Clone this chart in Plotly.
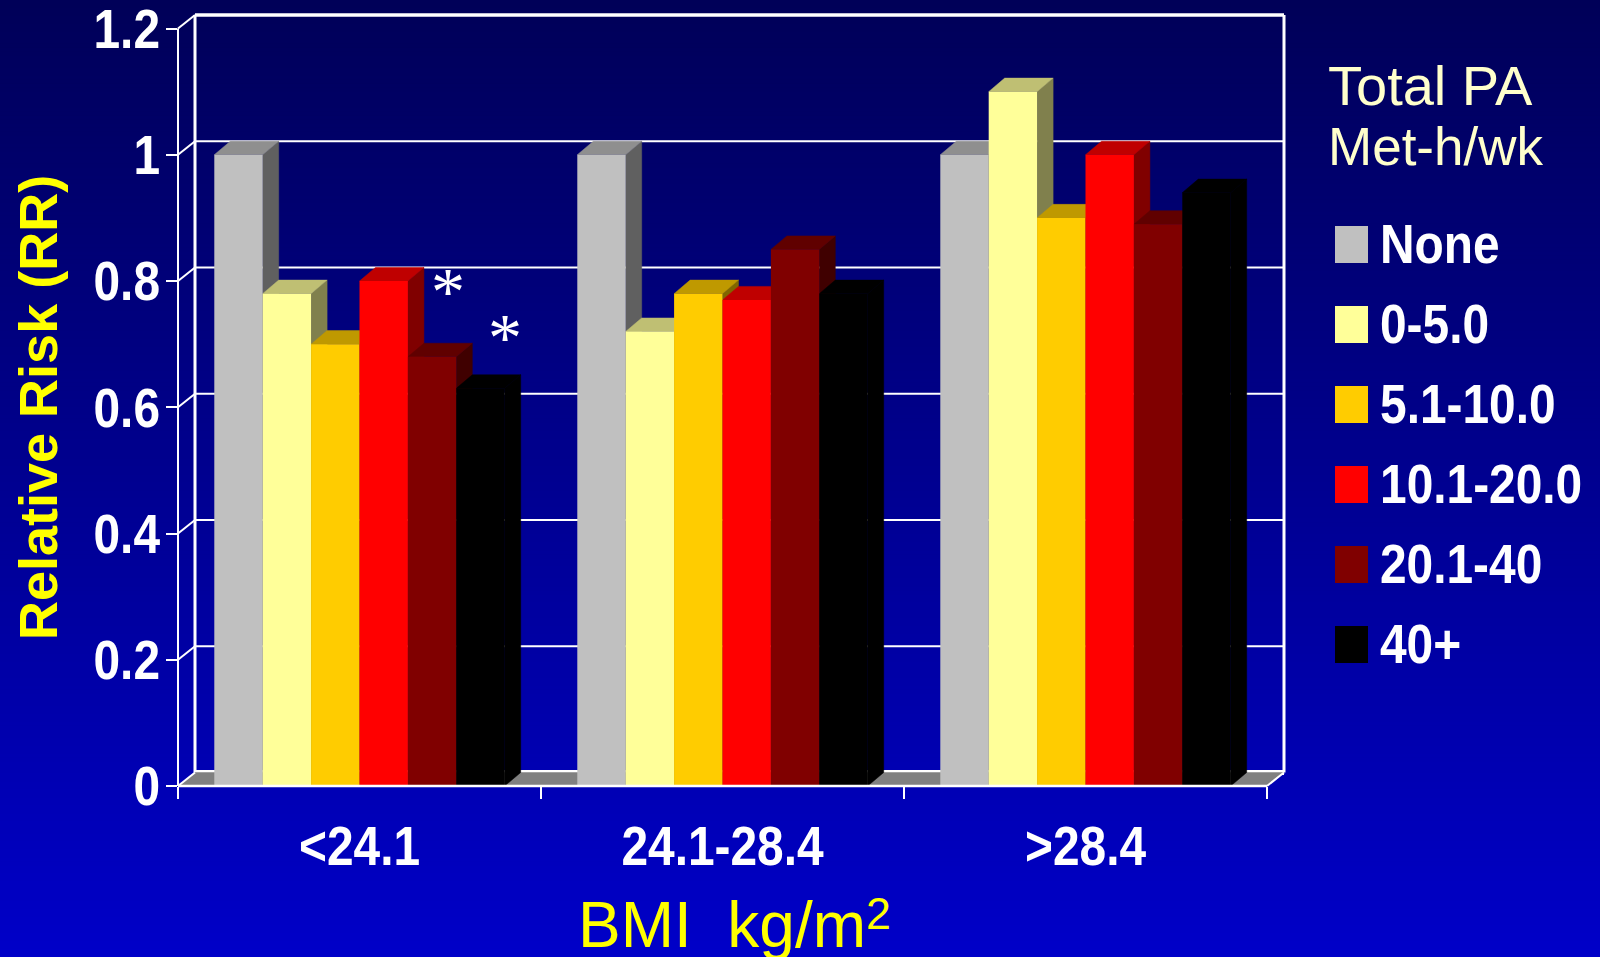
import json
import plotly.graph_objects as go

categories = ["<24.1", "24.1-28.4", ">28.4"]
series_names = ["None", "0-5.0", "5.1-10.0", "10.1-20.0", "20.1-40", "40+"]
none_vals = [1.0, 1.0, 1.0]
v0_5 = [0.78, 0.72, 1.10]
v5_10 = [0.70, 0.78, 0.90]
v10_20 = [0.80, 0.77, 1.00]
v20_40 = [0.68, 0.85, 0.89]
v40 = [0.63, 0.78, 0.94]
series_vals = [none_vals, v0_5, v5_10, v10_20, v20_40, v40]
front_colors = ["#C0C0C0", "#FFFF99", "#FFCC00", "#FF0000", "#800000", "#000000"]
top_colors = ["#8F8F8F", "#BFBF73", "#BF9900", "#BF0000", "#600000", "#000000"]
side_colors = ["#606060", "#80804D", "#806600", "#800000", "#400000", "#000000"]
y_ticks = [0, 0.2, 0.4, 0.6, 0.8, 1.0, 1.2]
y_labels = ["0", "0.2", "0.4", "0.6", "0.8", "1", "1.2"]

W, H = 1600, 957
L, R, T, B = 178, 1284, 15, 786
GAP = 0.2
DX = 17 / 363          # depth of the 3-D box, x in category units
BAR_DX = 16 / 363      # depth of the bars
DY = 13.5 / 630        # depth of the 3-D box, y in value units
XMIN = -0.5
XMAX = 2.5 + DX
YMAX = 1.2 + DY
WHITE = "#FFFFFF"
SANS = "Liberation Sans, Arial, sans-serif"


def px(xp):
    return (xp - L) / (R - L)


def py(yp):
    return (B - yp) / (B - T)


shapes = []
# background gradient
bands = 240
for k in range(bands):
    t = k / (bands - 1)
    blue = int(round(88 + (200 - 88) * t))
    shapes.append(dict(type="rect", xref="paper", yref="paper", layer="below",
                       x0=px(0), x1=px(W), y0=py(H * k / bands), y1=py(H * (k + 1) / bands + 1),
                       fillcolor=f"rgb(0,0,{blue})", line_width=0))


def poly(pts, fill):
    path = "M " + " L ".join(f"{x:.5f},{y:.5f}" for x, y in pts) + " Z"
    shapes.append(dict(type="path", xref="x", yref="y", layer="below", path=path,
                       fillcolor=fill, line=dict(color=fill, width=0.5)))


def line(x0, y0, x1, y1, w=2, layer="below"):
    # paper-referenced (from the axis ranges) so that edge lines are not clipped at the plot area
    fx = lambda v: (v - XMIN) / (XMAX - XMIN)
    fy = lambda v: v / YMAX
    shapes.append(dict(type="line", xref="paper", yref="paper", layer=layer,
                       x0=fx(x0), y0=fy(y0), x1=fx(x1), y1=fy(y1),
                       line=dict(color=WHITE, width=w)))


# walls and grid
for v in y_ticks:
    w = 5 if v == 0 else (3.5 if v == 1.2 else 2)
    line(-0.5 + DX, v + DY, 2.5 + DX, v + DY, w)
    line(-0.5, v, -0.5 + DX, v + DY, 2, "above" if v == 0 else "below")
line(-0.5 + DX, DY, -0.5 + DX, 1.2 + DY, 3)
line(2.5 + DX, DY, 2.5 + DX, 1.2 + DY, 3)
line(-0.5, 0, -0.5, 1.2, 2)
line(2.5, 0, 2.5 + DX, DY, 2, "above")
# floor
poly([(-0.5, 0), (-0.5 + DX, DY), (2.5 + DX, DY), (2.5, 0)], "#808080")

# 3-D faces (the fronts are real bars, drawn above all shapes)
n = len(series_vals)
bw = (1 - GAP) / n
for c in range(len(categories)):
    for i, vals in enumerate(series_vals):
        v = vals[c]
        x0 = c - 0.5 + GAP / 2 + i * bw
        x1 = x0 + bw
        poly([(x1, 0), (x1 + BAR_DX, DY), (x1 + BAR_DX, v + DY), (x1, v)], side_colors[i])
        poly([(x0, v), (x0 + BAR_DX, v + DY), (x1 + BAR_DX, v + DY), (x1, v)], top_colors[i])

line(-0.5, 0, 2.5, 0, 2.5, "above")

fig = go.Figure()
for name, vals, col in zip(series_names, series_vals, front_colors):
    fig.add_trace(go.Bar(name=name, x=[0, 1, 2], y=vals, marker=dict(color=col, line_width=0),
                         showlegend=False, hoverinfo="skip"))

anns = []
# legend (shapes + text)
leg_y0 = 226
leg_step = 80
for i, (name, col) in enumerate(zip(series_names, front_colors)):
    y = leg_y0 + i * leg_step
    shapes.append(dict(type="rect", xref="paper", yref="paper", layer="above",
                       x0=px(1335), x1=px(1368), y0=py(y), y1=py(y + 37),
                       fillcolor=col, line_width=0))
    anns.append(dict(text=f"<b>{name}</b>", xref="paper", yref="paper", xanchor="left", yanchor="middle",
                     x=px(1378), y=py(y + 18), showarrow=False,
                     font=dict(family=SANS, size=55, color=WHITE)))


def note(txt, xp, yp, size, color, family=SANS, **kw):
    anns.append(dict(text=txt, xref="paper", yref="paper", x=px(xp), y=py(yp),
                     showarrow=False, font=dict(family=family, size=size, color=color), **kw))


note("Total PA", 1326, 85, 56, "#FFFFCC", xanchor="left", yanchor="middle")
note("Met-h/wk", 1326, 147, 53, "#FFFFCC", xanchor="left", yanchor="middle")
note("BMI  kg/m<sup>2</sup>", 734, 920, 64, "#FFFF00", xanchor="center", yanchor="middle")
note("<b>Relative Risk (RR)</b>", 38, 408, 54, "#FFFF00", textangle=-90, xanchor="center", yanchor="middle")
note("*", 448, 291, 68, WHITE, family="Liberation Serif", xanchor="center", yanchor="middle")
note("*", 505, 337, 68, WHITE, family="Liberation Serif", xanchor="center", yanchor="middle")

fig.update_layout(
    width=W, height=H, autosize=False,
    margin=dict(l=L, r=W - R, t=T, b=H - B, pad=0, autoexpand=False),
    paper_bgcolor="#00008C", plot_bgcolor="rgba(0,0,0,0)",
    barmode="group", bargap=GAP, bargroupgap=0,
    shapes=shapes, annotations=anns,
    xaxis=dict(range=[XMIN, XMAX], tickvals=[0, 1, 2], ticktext=[f"<b>{c}</b>" for c in categories],
               showgrid=False, zeroline=False, showline=False, ticks="", automargin=False,
               tickfont=dict(family=SANS, size=55, color=WHITE),
               minor=dict(tickvals=[-0.5, 0.5, 1.5, 2.5], ticks="outside", ticklen=12, tickwidth=2, tickcolor=WHITE),
               ticklabelstandoff=23),
    yaxis=dict(range=[0, YMAX], tickvals=y_ticks, ticktext=[f"<b>{t}</b>" for t in y_labels],
               showgrid=False, zeroline=False, showline=False, ticks="outside", ticklen=11, tickwidth=2,
               tickcolor=WHITE, tickfont=dict(family=SANS, size=55, color=WHITE), automargin=False,
               ticklabelstandoff=-5, ticklabeloverflow="allow"),
)

# The reference's bold labels are horizontally condensed; no narrow font is installed.
squeeze_js = """
document.body.style.margin='0';document.body.style.overflow='hidden';
var S=0.87, names=%s;
function squeeze(el,x){var t=el.getAttribute('transform')||'';
  el.setAttribute('transform',t+' translate('+x+',0) scale('+S+',1) translate('+(-x)+',0)');}
document.querySelectorAll('.xtick text, .ytick text').forEach(function(el){
  squeeze(el,parseFloat(el.getAttribute('x'))||0);});
document.querySelectorAll('text.annotation-text').forEach(function(el){
  if(names.indexOf(el.textContent)>=0){squeeze(el,el.getBBox().x);}
  el.querySelectorAll('tspan').forEach(function(ts){
    if(ts.getAttribute('dy')==='-0.6em'){ts.setAttribute('dy','-0.41em');}});});
""" % json.dumps(series_names)

fig.write_html("out.html", config={"displayModeBar": False, "responsive": False}, post_script=squeeze_js)
